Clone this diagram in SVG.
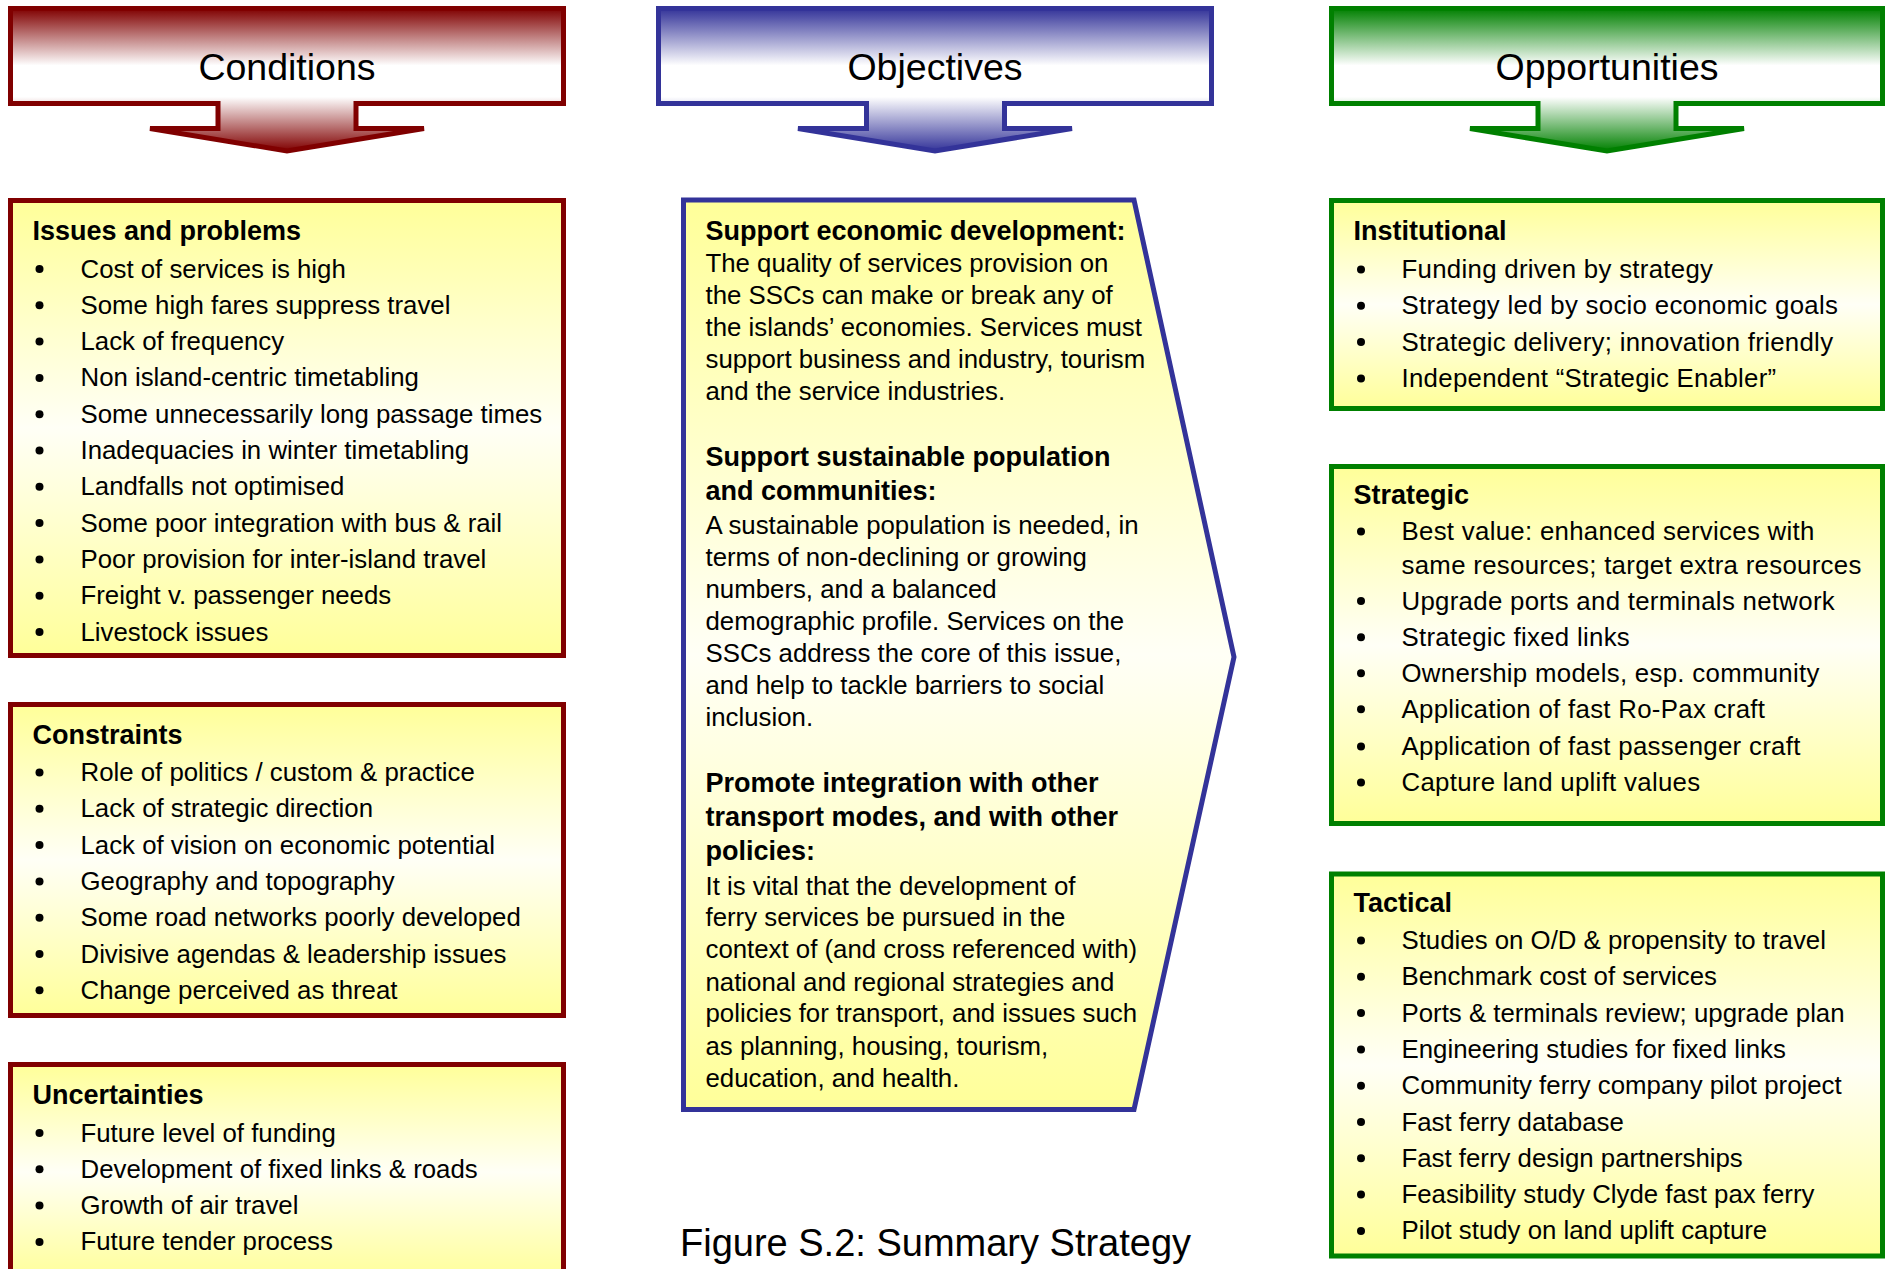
<svg xmlns="http://www.w3.org/2000/svg" xmlns:xlink="http://www.w3.org/1999/xlink" width="1885" height="1269" viewBox="0 0 1885 1269">
  <defs>
    <!-- header arrow fills: dark at the top, white band, dark again at the tip -->
    <linearGradient id="gRed" x1="0" y1="0" x2="0" y2="1">
      <stop offset="0" stop-color="#800000"/>
      <stop offset="0.4" stop-color="#ffffff"/>
      <stop offset="0.62" stop-color="#ffffff"/>
      <stop offset="1" stop-color="#800000"/>
    </linearGradient>
    <linearGradient id="gBlue" x1="0" y1="0" x2="0" y2="1">
      <stop offset="0" stop-color="#333399"/>
      <stop offset="0.4" stop-color="#ffffff"/>
      <stop offset="0.62" stop-color="#ffffff"/>
      <stop offset="1" stop-color="#333399"/>
    </linearGradient>
    <linearGradient id="gGreen" x1="0" y1="0" x2="0" y2="1">
      <stop offset="0" stop-color="#008000"/>
      <stop offset="0.4" stop-color="#ffffff"/>
      <stop offset="0.62" stop-color="#ffffff"/>
      <stop offset="1" stop-color="#008000"/>
    </linearGradient>
    <!-- pale yellow panel fill -->
    <linearGradient id="gPanel" x1="0" y1="0" x2="0" y2="1">
      <stop offset="0" stop-color="#ffff99"/>
      <stop offset="0.5" stop-color="#fffff6"/>
      <stop offset="1" stop-color="#ffff99"/>
    </linearGradient>
    <circle id="dot" r="4" fill="#000"/>
  </defs>
  <style>
    text { font-family: "Liberation Sans", Arial, sans-serif; fill: #000; }
    .hdr { font-size: 37.5px; text-anchor: middle; }
    .ttl { font-size: 27px; font-weight: bold; }
    .itm { font-size: 25.8px; }
    .sp { letter-spacing: 0.3px; }
    .cap { font-size: 38px; }
    .shape { stroke-width: 5; stroke-linejoin: miter; }
    .red { stroke: #800000; }
    .blue { stroke: #333399; }
    .green { stroke: #008000; }
    .panel { fill: url(#gPanel); }
  </style>

  <rect width="1885" height="1269" fill="#ffffff"/>

  <!-- column headers (arrows pointing down) -->
  <g id="hdr-conditions">
    <path class="shape red" fill="url(#gRed)" d="M10.5,8.5 H563.5 V103.5 H356 V128.5 H424 L287,151 L150,128.5 H218 V103.5 H10.5 Z"/>
    <text class="hdr" x="287" y="80">Conditions</text>
  </g>
  <g id="hdr-objectives">
    <path class="shape blue" fill="url(#gBlue)" d="M658.5,8.5 H1211.5 V103.5 H1004.5 V128.5 H1072 L935,151 L798,128.5 H866.5 V103.5 H658.5 Z"/>
    <text class="hdr" x="935" y="80">Objectives</text>
  </g>
  <g id="hdr-opportunities">
    <path class="shape green" fill="url(#gGreen)" d="M1331.5,8.5 H1882.5 V103.5 H1676 V128.5 H1744 L1607,151 L1470,128.5 H1538 V103.5 H1331.5 Z"/>
    <text class="hdr" x="1607" y="80">Opportunities</text>
  </g>

  <!-- left column: conditions -->
  <g id="issues">
    <rect class="shape red panel" x="10.5" y="200.5" width="553" height="455"/>
    <text class="ttl" x="32.5" y="240">Issues and problems</text>
    <use xlink:href="#dot" x="39.5" y="269"/>
    <use xlink:href="#dot" x="39.5" y="305.3"/>
    <use xlink:href="#dot" x="39.5" y="341.6"/>
    <use xlink:href="#dot" x="39.5" y="377.9"/>
    <use xlink:href="#dot" x="39.5" y="414.2"/>
    <use xlink:href="#dot" x="39.5" y="450.5"/>
    <use xlink:href="#dot" x="39.5" y="486.8"/>
    <use xlink:href="#dot" x="39.5" y="523.1"/>
    <use xlink:href="#dot" x="39.5" y="559.4"/>
    <use xlink:href="#dot" x="39.5" y="595.7"/>
    <use xlink:href="#dot" x="39.5" y="632"/>
    <text class="itm" x="80.5" y="277.5">Cost of services is high</text>
    <text class="itm" x="80.5" y="313.8">Some high fares suppress travel</text>
    <text class="itm" x="80.5" y="350.1">Lack of frequency</text>
    <text class="itm" x="80.5" y="386.4">Non island-centric timetabling</text>
    <text class="itm" x="80.5" y="422.7">Some unnecessarily long passage times</text>
    <text class="itm" x="80.5" y="459">Inadequacies in winter timetabling</text>
    <text class="itm" x="80.5" y="495.3">Landfalls not optimised</text>
    <text class="itm" x="80.5" y="531.6">Some poor integration with bus &amp; rail</text>
    <text class="itm" x="80.5" y="567.9">Poor provision for inter-island travel</text>
    <text class="itm" x="80.5" y="604.2">Freight v. passenger needs</text>
    <text class="itm" x="80.5" y="640.5">Livestock issues</text>
  </g>

  <g id="constraints">
    <rect class="shape red panel" x="10.5" y="704.5" width="553" height="311"/>
    <text class="ttl" x="32.5" y="744">Constraints</text>
    <use xlink:href="#dot" x="39.5" y="772.5"/>
    <use xlink:href="#dot" x="39.5" y="808.8"/>
    <use xlink:href="#dot" x="39.5" y="845.1"/>
    <use xlink:href="#dot" x="39.5" y="881.4"/>
    <use xlink:href="#dot" x="39.5" y="917.7"/>
    <use xlink:href="#dot" x="39.5" y="954"/>
    <use xlink:href="#dot" x="39.5" y="990.3"/>
    <text class="itm" x="80.5" y="781">Role of politics / custom &amp; practice</text>
    <text class="itm" x="80.5" y="817.3">Lack of strategic direction</text>
    <text class="itm" x="80.5" y="853.6">Lack of vision on economic potential</text>
    <text class="itm" x="80.5" y="889.9">Geography and topography</text>
    <text class="itm" x="80.5" y="926.2">Some road networks poorly developed</text>
    <text class="itm" x="80.5" y="962.5">Divisive agendas &amp; leadership issues</text>
    <text class="itm" x="80.5" y="998.8">Change perceived as threat</text>
  </g>

  <g id="uncertainties">
    <rect class="shape red panel" x="10.5" y="1064.5" width="553" height="215"/>
    <text class="ttl" x="32.5" y="1103.5">Uncertainties</text>
    <use xlink:href="#dot" x="39.5" y="1133"/>
    <use xlink:href="#dot" x="39.5" y="1169.3"/>
    <use xlink:href="#dot" x="39.5" y="1205.6"/>
    <use xlink:href="#dot" x="39.5" y="1241.9"/>
    <text class="itm" x="80.5" y="1141.5">Future level of funding</text>
    <text class="itm" x="80.5" y="1177.8">Development of fixed links &amp; roads</text>
    <text class="itm" x="80.5" y="1214.1">Growth of air travel</text>
    <text class="itm" x="80.5" y="1250.4">Future tender process</text>
  </g>

  <!-- centre column: objectives panel pointing right -->
  <g id="objectives">
    <path class="shape blue panel" d="M683.5,200 H1134 L1234,657 L1134,1109.5 H683.5 Z"/>
    <text class="ttl" x="705.5" y="240">Support economic development:</text>
    <text class="itm" x="705.5" y="272">The quality of services provision on</text>
    <text class="itm" x="705.5" y="304">the SSCs can make or break any of</text>
    <text class="itm" x="705.5" y="336">the islands’ economies. Services must</text>
    <text class="itm" x="705.5" y="368">support business and industry, tourism</text>
    <text class="itm" x="705.5" y="400">and the service industries.</text>

    <text class="ttl" x="705.5" y="466">Support sustainable population</text>
    <text class="ttl" x="705.5" y="500">and communities:</text>
    <text class="itm" x="705.5" y="534">A sustainable population is needed, in</text>
    <text class="itm" x="705.5" y="566">terms of non-declining or growing</text>
    <text class="itm" x="705.5" y="598">numbers, and a balanced</text>
    <text class="itm" x="705.5" y="630">demographic profile. Services on the</text>
    <text class="itm" x="705.5" y="662">SSCs address the core of this issue,</text>
    <text class="itm" x="705.5" y="694">and help to tackle barriers to social</text>
    <text class="itm" x="705.5" y="726">inclusion.</text>

    <text class="ttl" x="705.5" y="792">Promote integration with other</text>
    <text class="ttl" x="705.5" y="826">transport modes, and with other</text>
    <text class="ttl" x="705.5" y="860">policies:</text>
    <text class="itm" x="705.5" y="894.5">It is vital that the development of</text>
    <text class="itm" x="705.5" y="926">ferry services be pursued in the</text>
    <text class="itm" x="705.5" y="958">context of (and cross referenced with)</text>
    <text class="itm" x="705.5" y="990.5">national and regional strategies and</text>
    <text class="itm" x="705.5" y="1022">policies for transport, and issues such</text>
    <text class="itm" x="705.5" y="1054.5">as planning, housing, tourism,</text>
    <text class="itm" x="705.5" y="1087">education, and health.</text>
  </g>

  <!-- right column: opportunities -->
  <g id="institutional">
    <rect class="shape green panel" x="1331.5" y="200.5" width="551" height="208"/>
    <text class="ttl" x="1353.5" y="240">Institutional</text>
    <use xlink:href="#dot" x="1361" y="269.5"/>
    <use xlink:href="#dot" x="1361" y="305.8"/>
    <use xlink:href="#dot" x="1361" y="342.1"/>
    <use xlink:href="#dot" x="1361" y="378.4"/>
    <text class="itm sp" x="1401.5" y="278">Funding driven by strategy</text>
    <text class="itm sp" x="1401.5" y="314.3">Strategy led by socio economic goals</text>
    <text class="itm sp" x="1401.5" y="350.6">Strategic delivery; innovation friendly</text>
    <text class="itm sp" x="1401.5" y="386.9">Independent “Strategic Enabler”</text>
  </g>

  <g id="strategic">
    <rect class="shape green panel" x="1331.5" y="466.5" width="551" height="357"/>
    <text class="ttl" x="1353.5" y="503.5">Strategic</text>
    <use xlink:href="#dot" x="1361" y="531.5"/>
    <use xlink:href="#dot" x="1361" y="601"/>
    <use xlink:href="#dot" x="1361" y="637.2"/>
    <use xlink:href="#dot" x="1361" y="673.2"/>
    <use xlink:href="#dot" x="1361" y="709.3"/>
    <use xlink:href="#dot" x="1361" y="746.5"/>
    <use xlink:href="#dot" x="1361" y="782.5"/>
    <text class="itm sp" x="1401.5" y="540">Best value: enhanced services with</text>
    <text class="itm sp" x="1401.5" y="573.5">same resources; target extra resources</text>
    <text class="itm sp" x="1401.5" y="609.5">Upgrade ports and terminals network</text>
    <text class="itm sp" x="1401.5" y="645.7">Strategic fixed links</text>
    <text class="itm sp" x="1401.5" y="681.7">Ownership models, esp. community</text>
    <text class="itm sp" x="1401.5" y="717.8">Application of fast Ro-Pax craft</text>
    <text class="itm sp" x="1401.5" y="755">Application of fast passenger craft</text>
    <text class="itm sp" x="1401.5" y="791">Capture land uplift values</text>
  </g>

  <g id="tactical">
    <rect class="shape green panel" x="1331.5" y="874" width="551" height="382"/>
    <text class="ttl" x="1353.5" y="912">Tactical</text>
    <use xlink:href="#dot" x="1361" y="940.5"/>
    <use xlink:href="#dot" x="1361" y="976.8"/>
    <use xlink:href="#dot" x="1361" y="1013.1"/>
    <use xlink:href="#dot" x="1361" y="1049.4"/>
    <use xlink:href="#dot" x="1361" y="1085.7"/>
    <use xlink:href="#dot" x="1361" y="1122"/>
    <use xlink:href="#dot" x="1361" y="1158.3"/>
    <use xlink:href="#dot" x="1361" y="1194.6"/>
    <use xlink:href="#dot" x="1361" y="1230.9"/>
    <text class="itm" x="1401.5" y="949">Studies on O/D &amp; propensity to travel</text>
    <text class="itm" x="1401.5" y="985.3">Benchmark cost of services</text>
    <text class="itm" x="1401.5" y="1021.6">Ports &amp; terminals review; upgrade plan</text>
    <text class="itm" x="1401.5" y="1057.9">Engineering studies for fixed links</text>
    <text class="itm" x="1401.5" y="1094.2">Community ferry company pilot project</text>
    <text class="itm" x="1401.5" y="1130.5">Fast ferry database</text>
    <text class="itm" x="1401.5" y="1166.8">Fast ferry design partnerships</text>
    <text class="itm" x="1401.5" y="1203.1">Feasibility study Clyde fast pax ferry</text>
    <text class="itm" x="1401.5" y="1239.4">Pilot study on land uplift capture</text>
  </g>

  <g id="connectors"/>

  <g id="caption">
    <text class="cap" x="680" y="1256">Figure S.2: Summary Strategy</text>
  </g>
</svg>
